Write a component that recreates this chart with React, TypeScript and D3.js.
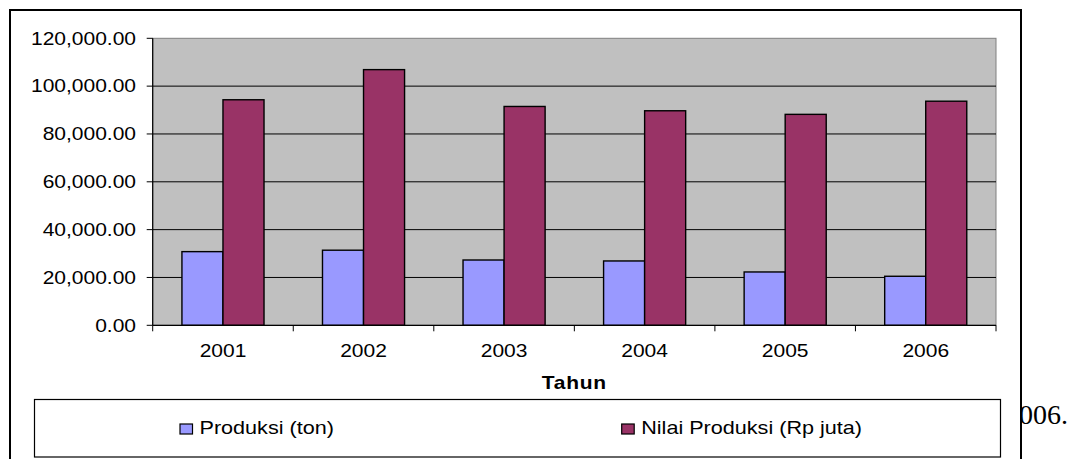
import React from "react";
import * as d3 from "d3";

// Production data per year
const years = ["2001", "2002", "2003", "2004", "2005", "2006"];
const produksiTon = [30800, 31400, 27300, 26900, 22300, 20500];
const nilaiProduksi = [94300, 106900, 91500, 89700, 88200, 93700];
const seriesNames = ["Produksi (ton)", "Nilai Produksi (Rp juta)"];
const seriesColors = ["#9999FF", "#993366"];
const yTicks = [0, 20000, 40000, 60000, 80000, 100000, 120000];
const xTitle = "Tahun";

const W = 1074;
const H = 459;
const SX = 1.2; // horizontal glyph stretch of the chart text
const FONT = "'Liberation Sans', Arial, sans-serif";

const plot = { left: 152.7, right: 996, top: 38.3, bottom: 325.3 };

function SText(props: {
  x: number;
  y: number;
  anchor?: string;
  size: number;
  weight?: string;
  spacing?: number;
  children: React.ReactNode;
}) {
  const { x, y, anchor = "start", size, weight = "normal", spacing = 0, children } = props;
  return (
    <text
      transform={`translate(${x},${y}) scale(${SX},1)`}
      textAnchor={anchor}
      fontSize={size}
      fontWeight={weight}
      fontFamily={FONT}
      letterSpacing={spacing}
      fill="#000"
    >
      {children}
    </text>
  );
}

export default function App() {
  const y = d3.scaleLinear().domain([0, 120000]).range([plot.bottom, plot.top]);
  const x0 = d3
    .scaleBand<string>()
    .domain(years)
    .range([plot.left, plot.right])
    .paddingInner(0.416)
    .paddingOuter(0.208);
  const x1 = d3
    .scaleBand<string>()
    .domain(["a", "b"])
    .range([0, x0.bandwidth()]);
  const step = x0.step();
  const boundaries = d3.range(years.length + 1).map((i) => plot.left + i * step);
  const fmt = d3.format(",.2f");
  const series = [produksiTon, nilaiProduksi];

  return (
    <svg
      width={W}
      height={H}
      style={{ position: "absolute", left: 0, top: 0, display: "block" }}
    >
      <rect x={0} y={0} width={W} height={H} fill="#fff" />
      {/* surrounding document text, partly covered by the chart frame */}
      <text
        x={1005}
        y={424}
        fontSize={28}
        fontFamily="'Liberation Serif', 'Times New Roman', serif"
        fill="#000"
      >
        2006.
      </text>

      {/* chart frame */}
      <rect x={10} y={10} width={1011} height={470} fill="#fff" stroke="#000" strokeWidth={2} />

      {/* plot area */}
      <rect
        x={plot.left}
        y={plot.top}
        width={plot.right - plot.left}
        height={plot.bottom - plot.top}
        fill="#C0C0C0"
        stroke="#808080"
        strokeWidth={1}
      />
      {yTicks.slice(1, -1).map((t) => (
        <line key={`g${t}`} x1={plot.left} x2={plot.right} y1={y(t)} y2={y(t)} stroke="#000" strokeWidth={1} />
      ))}

      {/* bars */}
      {years.map((yr, i) => (
        <g key={yr} transform={`translate(${x0(yr)},0)`}>
          {series.map((s, k) => (
            <rect
              key={k}
              x={x1(k === 0 ? "a" : "b")}
              y={y(s[i])}
              width={x1.bandwidth()}
              height={y(0) - y(s[i])}
              fill={seriesColors[k]}
              stroke="#000"
              strokeWidth={1.4}
            />
          ))}
        </g>
      ))}

      {/* y axis */}
      <line x1={plot.left} x2={plot.left} y1={plot.top} y2={plot.bottom} stroke="#000" strokeWidth={1.2} />
      {yTicks.map((t) => (
        <g key={`y${t}`}>
          <line x1={plot.left - 6} x2={plot.left} y1={y(t)} y2={y(t)} stroke="#000" strokeWidth={1} />
          <SText x={136} y={y(t) + 6.3} anchor="end" size={17.5}>
            {fmt(t)}
          </SText>
        </g>
      ))}

      {/* x axis */}
      <line x1={plot.left} x2={plot.right} y1={plot.bottom} y2={plot.bottom} stroke="#000" strokeWidth={1.2} />
      {boundaries.map((bx, i) => (
        <line key={`xt${i}`} x1={bx} x2={bx} y1={plot.bottom} y2={plot.bottom + 6} stroke="#000" strokeWidth={1} />
      ))}
      {years.map((yr) => (
        <SText key={`xl${yr}`} x={(x0(yr) as number) + x0.bandwidth() / 2} y={357.3} anchor="middle" size={17.5}>
          {yr}
        </SText>
      ))}
      <SText x={(plot.left + plot.right) / 2} y={389} anchor="middle" size={17.5} weight="bold" spacing={0.6}>
        {xTitle}
      </SText>

      {/* legend */}
      <rect x={34.5} y={399.5} width={966} height={57.5} fill="#fff" stroke="#000" strokeWidth={1.2} />
      {[180, 621.7].map((lx, k) => (
        <g key={`lg${k}`}>
          <rect x={lx} y={424} width={12.5} height={10} fill={seriesColors[k]} stroke="#000" strokeWidth={1.2} />
          <SText x={lx + 19.5} y={434} size={18}>
            {seriesNames[k]}
          </SText>
        </g>
      ))}
    </svg>
  );
}
